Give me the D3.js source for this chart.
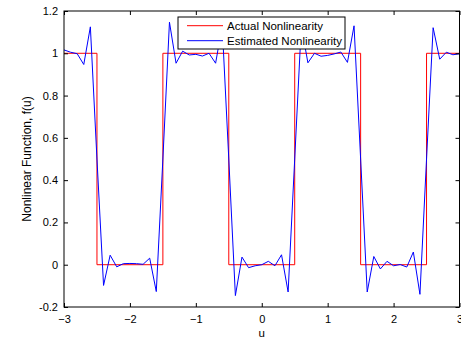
<!DOCTYPE html>
<html>
<head>
<meta charset="utf-8">
<script src="https://cdn.jsdelivr.net/npm/d3@7"></script>
<style>
  body { margin: 0; background: #fff; }
  svg { display: block; font-family: "Liberation Sans", Arial, sans-serif; }
  .axis text { font-size: 11px; fill: #000; }
  .axis line { stroke: #000; }
</style>
</head>
<body>
<div id="chart"></div>
<script>
const W = 461, H = 341;
const plotLeft = 64, plotRight = 459.5, plotTop = 11, plotBottom = 307;

// step function (red)
const actualU = [-3, -2.5, -2.5, -1.5, -1.5, -0.5, -0.5, 0.5, 0.5, 1.5, 1.5, 2.5, 2.5, 3];
const actualF = [1, 1, 0, 0, 1, 1, 0, 0, 1, 1, 0, 0, 1, 1];

// sampled estimate (blue)
const estU = [-3.0, -2.9, -2.8, -2.7, -2.6, -2.5, -2.4, -2.3, -2.2, -2.1,
              -2.0, -1.9, -1.8, -1.7, -1.6, -1.5, -1.4, -1.3, -1.2, -1.1,
              -1.0, -0.9, -0.8, -0.7, -0.6, -0.5, -0.4, -0.3, -0.2, -0.1,
               0.0,  0.1,  0.2,  0.3,  0.4,  0.5,  0.6,  0.7,  0.8,  0.9,
               1.0,  1.1,  1.2,  1.3,  1.4,  1.5,  1.6,  1.7,  1.8,  1.9,
               2.0,  2.1,  2.2,  2.3,  2.4,  2.5,  2.6,  2.7,  2.8,  2.9, 3.0];
const estF = [1.016, 1.005, 0.998, 0.947, 1.125, 0.50, -0.098, 0.045, -0.010, 0.005,
              0.006, 0.005, 0.002, 0.031, -0.127, 0.50, 1.147, 0.953, 1.010, 0.992,
              0.995, 0.987, 1.000, 0.953, 1.13, 0.50, -0.146, 0.036, -0.014, -0.005,
              0.000, 0.016, -0.005, 0.047, -0.129, 0.50, 1.13, 0.955, 1.000, 0.986,
              0.990, 0.997, 1.006, 0.957, 1.130, 0.50, -0.129, 0.039, -0.020, 0.016,
              -0.005, 0.001, -0.011, 0.060, -0.140, 0.50, 1.121, 0.972, 1.005, 0.993, 0.998];

const xTicks = [-3, -2, -1, 0, 1, 2, 3];
const xTickLabels = ["\u22123", "\u22122", "\u22121", "0", "1", "2", "3"];
const yTicks = [-0.2, 0, 0.2, 0.4, 0.6, 0.8, 1, 1.2];
const yTickLabels = ["-0.2", "0", "0.2", "0.4", "0.6", "0.8", "1", "1.2"];
const legendNames = ["Actual Nonlinearity", "Estimated Nonlinearity"];
const legendColors = ["#ff0000", "#0000ff"];

const x = d3.scaleLinear().domain([-3, 3]).range([plotLeft, plotRight]);
const y = d3.scaleLinear().domain([-0.2, 1.2]).range([plotBottom, plotTop]);

const svg = d3.select("#chart").append("svg")
    .attr("width", W)
    .attr("height", H);

svg.append("rect").attr("width", W).attr("height", H).attr("fill", "#fff");

const line = d3.line().x(d => x(d[0])).y(d => y(d[1]));

svg.append("path")
    .datum(actualU.map((u, i) => [u, actualF[i]]))
    .attr("d", line)
    .attr("fill", "none")
    .attr("stroke", legendColors[0])
    .attr("stroke-width", 1);

svg.append("path")
    .datum(estU.map((u, i) => [u, estF[i]]))
    .attr("d", line)
    .attr("fill", "none")
    .attr("stroke", legendColors[1])
    .attr("stroke-width", 1);

// axes, MATLAB style: inward ticks on all four sides
const tickLen = 4;
const xAxis = d3.axisBottom(x).tickValues(xTicks).tickSizeInner(-tickLen).tickSizeOuter(0)
    .tickPadding(8).tickFormat((d, i) => xTickLabels[i]);
svg.append("g").attr("class", "axis").attr("transform", `translate(0,${plotBottom})`).call(xAxis);

const yAxis = d3.axisLeft(y).tickValues(yTicks).tickSizeInner(-tickLen).tickSizeOuter(0)
    .tickPadding(6).tickFormat((d, i) => yTickLabels[i]);
svg.append("g").attr("class", "axis").attr("transform", `translate(${plotLeft},0)`).call(yAxis);

svg.append("g").attr("class", "axis").attr("transform", `translate(0,${plotTop})`)
    .call(d3.axisTop(x).tickValues(xTicks).tickSizeInner(-tickLen).tickSizeOuter(0).tickFormat(""));
svg.append("g").attr("class", "axis").attr("transform", `translate(${plotRight},0)`)
    .call(d3.axisRight(y).tickValues(yTicks).tickSizeInner(-tickLen).tickSizeOuter(0).tickFormat(""));

svg.selectAll(".axis .domain").remove();

svg.append("rect")
    .attr("x", plotLeft).attr("y", plotTop)
    .attr("width", plotRight - plotLeft).attr("height", plotBottom - plotTop)
    .attr("fill", "none").attr("stroke", "#000").attr("stroke-width", 1);

// axis titles
svg.append("text")
    .attr("x", (plotLeft + plotRight) / 2).attr("y", 337)
    .attr("text-anchor", "middle")
    .style("font-size", "11.5px")
    .text("u");

svg.append("text")
    .attr("transform", `translate(31,${(plotTop + plotBottom) / 2}) rotate(-90)`)
    .attr("text-anchor", "middle")
    .style("font-size", "12px")
    .text("Nonlinear Function, f(u)");

// legend
const legend = svg.append("g").attr("transform", "translate(178,17)");
legend.append("rect")
    .attr("width", 167).attr("height", 32)
    .attr("fill", "#fff").attr("stroke", "#000").attr("stroke-width", 1);
legend.selectAll("line.key")
    .data(legendNames)
    .enter().append("line")
    .attr("class", "key")
    .attr("x1", 9).attr("x2", 45)
    .attr("y1", (d, i) => 8.7 + i * 15).attr("y2", (d, i) => 8.7 + i * 15)
    .attr("stroke", (d, i) => legendColors[i]);
legend.selectAll("text")
    .data(legendNames)
    .enter().append("text")
    .attr("x", 49)
    .attr("y", (d, i) => 12.8 + i * 15)
    .style("font-size", "11.5px")
    .text(d => d);
</script>
</body>
</html>
